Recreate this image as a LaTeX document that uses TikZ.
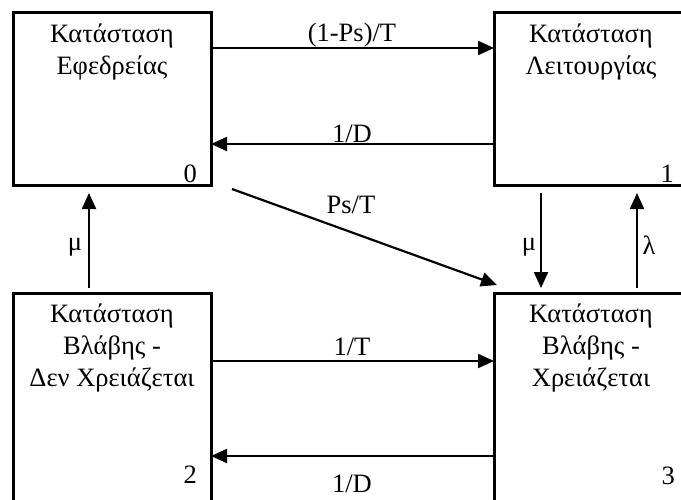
\documentclass[tikz,border=0pt]{standalone}
\usepackage{fontspec}
\setmainfont{Liberation Serif}
\usetikzlibrary{arrows.meta}
\begin{document}
\begin{tikzpicture}[x=1pt,y=1pt,
  box/.style={draw,line width=3pt,rectangle,inner sep=0pt,outer sep=0pt},
  arr/.style={line width=2.2pt,-{Triangle[length=16pt,width=14pt]}},
  txt/.style={anchor=base,inner sep=0pt,font=\fontsize{26.5}{30}\selectfont},
  num/.style={anchor=base east,inner sep=0pt,font=\fontsize{26.5}{30}\selectfont}]
\useasboundingbox (0,0) rectangle (681,-499);
\clip (0,0) rectangle (681,-499);
% boxes
\node[box,minimum width=198pt,minimum height=173pt] (b0) at (112,-98.5) {};
\node[box,minimum width=194pt,minimum height=173pt] (b1) at (591,-98.5) {};
\node[box,minimum width=198pt,minimum height=217pt] (b2) at (112,-401.5) {};
\node[box,minimum width=194pt,minimum height=217pt] (b3) at (591,-401.5) {};
% box texts
\node[txt] (t0a) at (112,-42) {Κατάσταση};
\node[txt] (t0b) at (112,-74) {Εφεδρείας};
\node[num] (n0) at (197,-182) {0};
\node[txt] (t1a) at (591,-42) {Κατάσταση};
\node[txt] (t1b) at (591,-74) {Λειτουργίας};
\node[num] (n1) at (674,-182) {1};
\node[txt] (t2a) at (112,-322) {Κατάσταση};
\node[txt] (t2b) at (112,-354) {Βλάβης -};
\node[txt] (t2c) at (112,-386) {Δεν Χρειάζεται};
\node[num] (n2) at (197,-483) {2};
\node[txt] (t3a) at (591,-322) {Κατάσταση};
\node[txt] (t3b) at (591,-354) {Βλάβης -};
\node[txt] (t3c) at (591,-386) {Χρειάζεται};
\node[num] (n3) at (675,-484) {3};
% horizontal connectors
\draw[arr] (b0.east |- 0,-48) -- (b1.west |- 0,-48);
\draw[arr] (b1.west |- 0,-144) -- (b0.east |- 0,-144);
\draw[arr] (b2.east |- 0,-361) -- (b3.west |- 0,-361);
\draw[arr] (b3.west |- 0,-456) -- (b2.east |- 0,-456);
% diagonal
\coordinate (ds) at ([shift={(21,-4)}]b0.south east);
\coordinate (de) at ([shift={(3,8)}]b3.north west);
\draw[arr] (ds) -- (de);
% vertical connectors
\draw[arr,shorten <=5pt,shorten >=8pt] (b2.north -| 89,0) -- (b0.south -| 89,0);
\draw[arr,shorten <=8pt,shorten >=5pt] (b1.south -| 541,0) -- (b3.north -| 541,0);
\draw[arr,shorten <=5pt,shorten >=8pt] (b3.north -| 637,0) -- (b1.south -| 637,0);
% labels
\node[txt] (l1) at (352,-41) {(1-Ps)/T};
\node[txt] (l2) at (352,-142) {1/D};
\node[txt] (l3) at (351,-213) {Ps/T};
\node[txt] (l4) at (352,-355) {1/T};
\node[txt] (l5) at (352,-492) {1/D};
\node[txt] (l6) at (75,-250) {μ};
\node[txt] (l7) at (529,-250) {μ};
\node[txt] (l8) at (649,-254) {λ};
\end{tikzpicture}
\end{document}
